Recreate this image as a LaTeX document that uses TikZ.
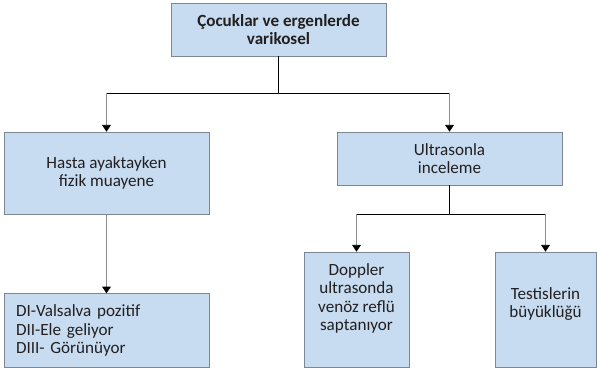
\documentclass[tikz,border=0pt]{standalone}
\usepackage{fontspec}
\setmainfont{Carlito}
\usepackage{xcolor}
\usepackage{tikz}
\usetikzlibrary{arrows.meta, positioning, calc}

\definecolor{boxfill}{RGB}{199,220,240}
\definecolor{boxline}{RGB}{125,135,148}
\definecolor{dropline}{RGB}{140,140,140}
\definecolor{inktext}{RGB}{35,31,32}

\begin{document}
\begin{tikzpicture}[
    infobox/.style={draw=boxline, fill=boxfill, line width=0.6pt, align=center,
        text=inktext, font=\fontsize{14.6}{15.6}\selectfont, inner sep=0pt},
    topbox/.style={infobox, minimum width=6.45cm, minimum height=1.59cm,
        font=\fontsize{14.6}{15.6}\selectfont\bfseries},
    tallbox/.style={infobox, minimum height=3.45cm},
    drop/.style={draw=dropline, line width=0.6pt,
        -{Triangle[width=0.26cm, length=0.2cm, color=black]}},
    joint/.style={draw=black, line width=0.6pt}
]
\useasboundingbox (0,0) rectangle (17.91,-11.07);

% Boxes
\node[topbox] (root) at (8.355,-0.885) {Çocuklar ve ergenlerde\\varikosel};

\node[infobox, minimum width=6.15cm, minimum height=2.46cm] (exam) at (3.195,-5.19)
    {Hasta ayaktayken\\fizik muayene};
\node[infobox, minimum width=6.75cm, minimum height=1.59cm] (us) at (13.485,-4.755)
    {Ultrasonla\\inceleme};

\node[infobox, minimum width=6.15cm, minimum height=2.22cm, inner xsep=0.36cm,
    text width=5.43cm, align=left, below=2.37cm of exam] (grade)
    {DI-Valsalva pozitif\\DII-Ele geliyor\\DIII- Görünüyor};

\node[tallbox, minimum width=3.15cm, text depth=0.75cm] (doppler) at (10.695,-9.285)
    {Doppler\\ultrasonda\\venöz reflü\\saptanıyor};
\node[tallbox, minimum width=3.03cm, text depth=0.4cm] (testis) at (16.365,-9.285)
    {Testislerin\\büyüklüğü};

% Connectors: root -> exam, us
\draw[joint] (root.south) -- ++(0,-1.11) coordinate (rootsplit);
\draw[joint] (exam.north |- rootsplit) -- (us.north |- rootsplit);
\draw[drop] (exam.north |- rootsplit) -- (exam.north);
\draw[drop] (us.north |- rootsplit) -- (us.north);

% Connector: exam -> grade
\draw[drop] (exam.south) -- (grade.north);

% Connectors: us -> doppler, testis
\draw[joint] (us.south) -- ++(0,-0.87) coordinate (ussplit);
\draw[joint] (doppler.north |- ussplit) -- (testis.north |- ussplit);
\draw[drop] (doppler.north |- ussplit) -- (doppler.north);
\draw[drop] (testis.north |- ussplit) -- (testis.north);

\end{tikzpicture}
\end{document}
